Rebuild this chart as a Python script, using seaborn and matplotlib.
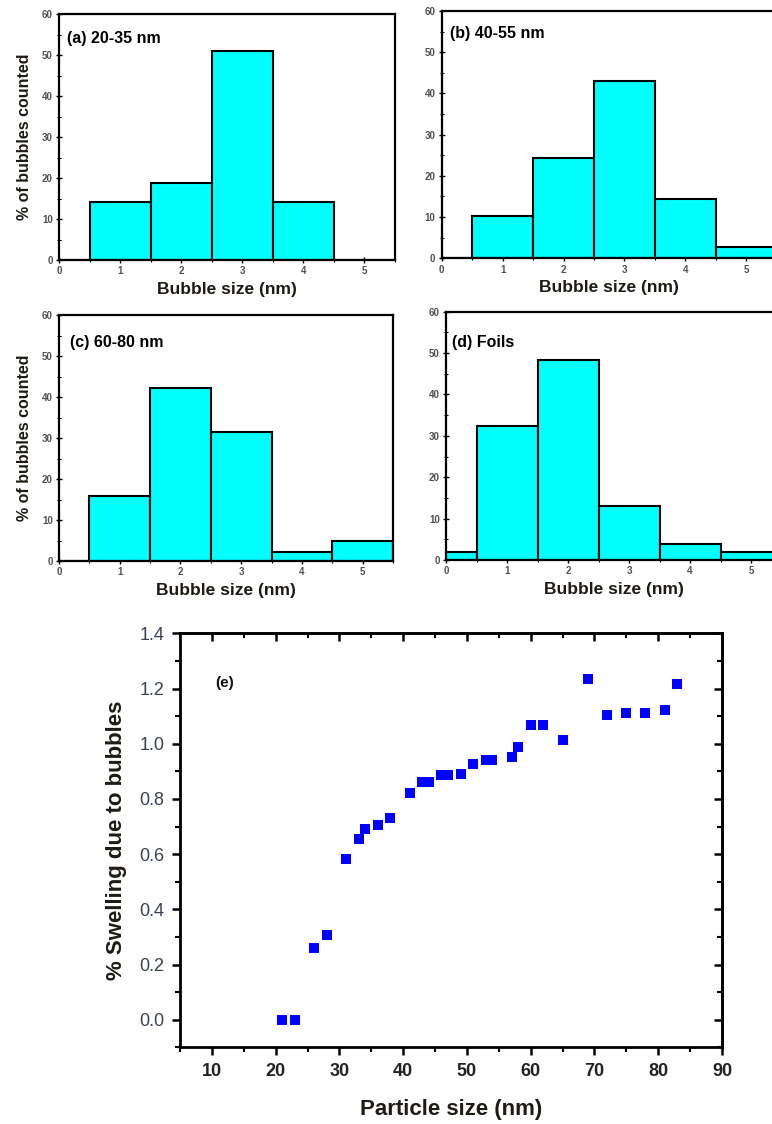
import numpy as np
import pandas as pd
import matplotlib
matplotlib.use("Agg")
import matplotlib.pyplot as plt
import seaborn as sns
from matplotlib.ticker import MultipleLocator

sns.set_theme(style="white")
plt.rcParams['font.family'] = ['Liberation Sans', 'DejaVu Sans']

# ---------------- data ----------------
bin_edges = [-0.5, 0.5, 1.5, 2.5, 3.5, 4.5, 5.5]

sizes_a = [1, 2, 3, 4]
pct_a = [14.2, 18.9, 51.0, 14.2]

sizes_b = [1, 2, 3, 4, 5]
pct_b = [10.3, 24.3, 42.9, 14.3, 2.8]

sizes_c = [1, 2, 3, 4, 5]
pct_c = [15.9, 42.1, 31.5, 2.1, 4.95]

sizes_d = [0, 1, 2, 3, 4, 5]
pct_d = [1.9, 32.4, 48.3, 13.1, 3.9, 1.9]

panel_titles = ["(a) 20-35 nm", "(b) 40-55 nm", "(c) 60-80 nm", "(d) Foils"]

particle_size = [21, 23, 26, 28, 31, 33, 34, 36, 38, 41, 43, 44, 46, 47, 49,
                 51, 53, 54, 57, 58, 60, 62, 65, 69, 72, 75, 78, 81, 83]
swelling = [0.0, 0.0, 0.258, 0.308, 0.584, 0.653, 0.691, 0.706, 0.730, 0.823,
            0.863, 0.863, 0.888, 0.888, 0.892, 0.928, 0.940, 0.940, 0.952,
            0.988, 1.069, 1.066, 1.014, 1.234, 1.103, 1.113, 1.113, 1.121, 1.217]

# ---------------- figure ----------------
W, H = 772, 1124
fig = plt.figure(figsize=(W / 100, H / 100), dpi=100)


def px_axes(left, top, right, bottom):
    return fig.add_axes([left / W, 1 - bottom / H, (right - left) / W, (bottom - top) / H])


hist_specs = [
    (sizes_a, pct_a, (59, 14, 395, 260), True, (0.024, 0.90)),
    (sizes_b, pct_b, (441.7, 11, 776.7, 258.3), False, (0.025, 0.91)),
    (sizes_c, pct_c, (59, 315, 393, 561), True, (0.033, 0.89)),
    (sizes_d, pct_d, (446, 311.7, 781.5, 560), False, (0.017, 0.874)),
]

label_color = "#1e1a14"
tick_color = "#505050"

for (sizes, pct, box, show_ylabel, tpos), title in zip(hist_specs, panel_titles):
    ax = px_axes(*box)
    df = pd.DataFrame({"size": sizes, "pct": pct})
    sns.histplot(data=df, x="size", weights="pct", bins=bin_edges, ax=ax,
                 color="#00FFFF", alpha=1.0, edgecolor="black", linewidth=1.5)
    ax.set_xlim(0, 5.5)
    ax.set_ylim(0, 60)
    ax.xaxis.set_major_locator(MultipleLocator(1))
    ax.xaxis.set_minor_locator(MultipleLocator(0.5))
    ax.yaxis.set_major_locator(MultipleLocator(10))
    ax.yaxis.set_minor_locator(MultipleLocator(5))
    ax.tick_params(which="major", direction="inout", length=5, width=1.0,
                   color="black", labelsize=7, labelcolor=tick_color, pad=2,
                   bottom=True, left=True)
    ax.tick_params(which="minor", direction="inout", length=3, width=0.8,
                   color="black", bottom=True, left=True)
    for lab in ax.get_xticklabels() + ax.get_yticklabels():
        lab.set_fontweight("bold")
    for sp in ax.spines.values():
        sp.set_linewidth(1.6)
        sp.set_color("black")
    ax.set_xlabel("Bubble size (nm)", fontsize=12.5, fontweight="bold",
                  color=label_color, labelpad=4)
    if show_ylabel:
        ax.set_ylabel("% of bubbles counted", fontsize=11.5, fontweight="bold",
                      color=label_color, labelpad=7)
    else:
        ax.set_ylabel("")
    ax.text(tpos[0], tpos[1], title, transform=ax.transAxes, fontsize=11.5,
            fontweight="bold", color="black", ha="left", va="center")

# ---------------- panel (e) ----------------
ax = px_axes(180, 633.3, 722, 1047.3)
sns.scatterplot(x=particle_size, y=swelling, ax=ax, marker="s", color="#0000FF",
                s=52, linewidth=0)
ax.set_xlim(5, 90)
ax.set_ylim(-0.1, 1.4)
ax.xaxis.set_major_locator(MultipleLocator(10))
ax.xaxis.set_minor_locator(MultipleLocator(5))
ax.yaxis.set_major_locator(MultipleLocator(0.2))
ax.yaxis.set_minor_locator(MultipleLocator(0.1))
ax.set_xticks(np.arange(10, 91, 10))
ax.set_yticks(np.arange(0, 1.41, 0.2))
ax.set_yticklabels([f"{v:.1f}" for v in np.arange(0, 1.41, 0.2)])
for sp in ax.spines.values():
    sp.set_linewidth(2.0)
    sp.set_color("black")
ax.tick_params(which="major", direction="out", length=6, width=1.8, color="black",
               bottom=True, left=True, pad=5)
ax.tick_params(which="minor", direction="out", length=3.5, width=1.5, color="black",
               bottom=True, left=True)
ax.tick_params(axis="x", labelsize=13, labelcolor="#222222")
ax.tick_params(axis="y", labelsize=13, labelcolor="#3a4258")
for lab in ax.get_xticklabels():
    lab.set_fontweight("bold")

secx = ax.secondary_xaxis("top")
secx.set_xticks(np.arange(10, 91, 10))
secx.xaxis.set_minor_locator(MultipleLocator(5))
secx.tick_params(which="major", direction="in", length=6, width=1.8, color="black",
                 labeltop=False)
secx.tick_params(which="minor", direction="in", length=3.5, width=1.5, color="black")
secx.spines["top"].set_linewidth(2.0)

secy = ax.secondary_yaxis("right")
secy.set_yticks(np.arange(0, 1.41, 0.2))
secy.yaxis.set_minor_locator(MultipleLocator(0.1))
secy.tick_params(which="major", direction="in", length=6, width=1.8, color="black",
                 labelright=False)
secy.tick_params(which="minor", direction="in", length=3.5, width=1.5, color="black")
secy.spines["right"].set_linewidth(2.0)

ax.set_xlabel("Particle size (nm)", fontsize=16, fontweight="bold",
              color=label_color, labelpad=14)
ax.set_ylabel("% Swelling due to bubbles", fontsize=16, fontweight="bold",
              color=label_color, labelpad=9)
ax.text(0.065, 0.88, "(e)", transform=ax.transAxes, fontsize=11, fontweight="bold",
        color="#111111", ha="left", va="center")

fig.savefig("out.png", dpi=100)
